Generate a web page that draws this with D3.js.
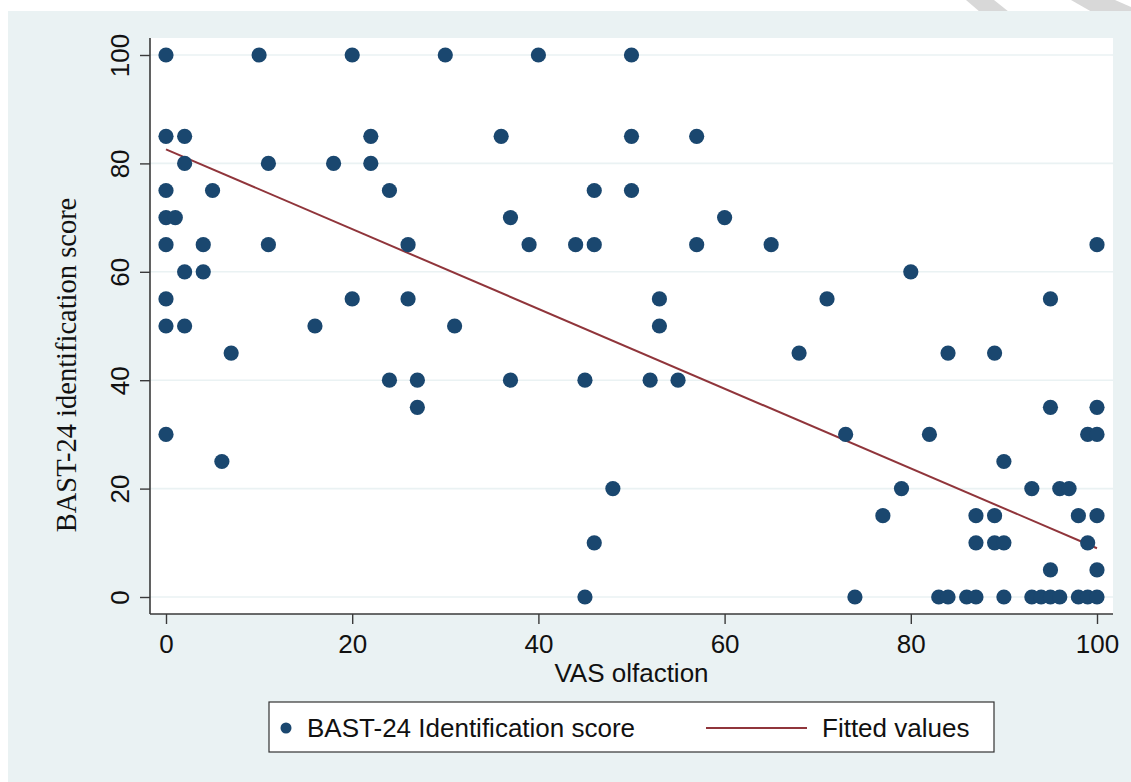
<!DOCTYPE html>
<html>
<head>
<meta charset="utf-8">
<script src="https://cdn.jsdelivr.net/npm/d3@7"></script>
<style>
  html, body { margin: 0; padding: 0; background: #ffffff; }
  svg { display: block; }
</style>
</head>
<body>
<div id="chart"></div>
<script>
// VAS olfaction (x) and BAST-24 identification score (y), one pair per subject,
// grouped by score row
const vasOlfaction = [
  0, 10, 20, 30, 40, 50,                                   // 100
  0, 2, 22, 36, 50, 57,                                    // 85
  2, 11, 18, 22,                                           // 80
  0, 5, 24, 46, 50,                                        // 75
  0, 1, 37, 60,                                            // 70
  0, 4, 11, 26, 39, 44, 46, 57, 65, 100,                   // 65
  2, 4, 80,                                                // 60
  0, 20, 26, 53, 71, 95,                                   // 55
  0, 2, 16, 31, 53,                                        // 50
  7, 68, 84, 89,                                           // 45
  24, 27, 37, 45, 52, 55,                                  // 40
  27, 95, 100,                                             // 35
  0, 73, 82, 99, 100,                                      // 30
  6, 90,                                                   // 25
  48, 79, 93, 96, 97,                                      // 20
  77, 87, 89, 98, 100,                                     // 15
  46, 87, 89, 90, 99,                                      // 10
  95, 100,                                                 // 5
  45, 74, 83, 84, 86, 87, 90, 93, 94, 95, 96, 98, 99, 100  // 0
];
const bastScore = [
  100, 100, 100, 100, 100, 100,
  85, 85, 85, 85, 85, 85,
  80, 80, 80, 80,
  75, 75, 75, 75, 75,
  70, 70, 70, 70,
  65, 65, 65, 65, 65, 65, 65, 65, 65, 65,
  60, 60, 60,
  55, 55, 55, 55, 55, 55,
  50, 50, 50, 50, 50,
  45, 45, 45, 45,
  40, 40, 40, 40, 40, 40,
  35, 35, 35,
  30, 30, 30, 30, 30,
  25, 25,
  20, 20, 20, 20, 20,
  15, 15, 15, 15, 15,
  10, 10, 10, 10, 10,
  5, 5,
  0, 0, 0, 0, 0, 0, 0, 0, 0, 0, 0, 0, 0, 0
];

// fitted regression line, end points
const fittedX = [0, 100];
const fittedY = [82.6, 9.0];

const xTicks = [0, 20, 40, 60, 80, 100];
const yTicks = [0, 20, 40, 60, 80, 100];

const xTitle = "VAS olfaction";
const yTitle = "BAST-24 identification score";
const legendLabels = ["BAST-24 Identification score", "Fitted values"];

class ScatterFit {
  constructor(_config) {
    this.config = {
      parentElement: _config.parentElement,
      width: 1131,
      height: 782,
      // plot region (white) and the inner data range inside it
      plot: { left: 150, right: 1113, top: 38, bottom: 614 },
      inner: { left: 166, right: 1097, top: 55, bottom: 597 },
      pointRadius: 7.6,
      colors: {
        page: "#eaf2f3",
        grid: "#eaf2f3",
        marker: "#1a476f",
        fit: "#90353b",
        axis: "#3a3a3a",
        text: "#111111",
      },
      sans: "Helvetica, Arial, 'Liberation Sans', sans-serif",
      serif: "'Times New Roman', 'Liberation Serif', serif",
      fontSize: 26,
    };
    this.initVis();
  }

  initVis() {
    let vis = this;
    const c = vis.config;

    vis.points = vasOlfaction.map((x, i) => ({ x: x, y: bastScore[i] }));
    vis.fit = fittedX.map((x, i) => ({ x: x, y: fittedY[i] }));

    vis.xScale = d3
      .scaleLinear()
      .domain([0, 100])
      .range([c.inner.left, c.inner.right]);

    vis.yScale = d3
      .scaleLinear()
      .domain([0, 100])
      .range([c.inner.bottom, c.inner.top]);

    vis.svg = d3
      .select(c.parentElement)
      .append("svg")
      .attr("width", c.width)
      .attr("height", c.height);

    // faint watermark strokes in the top-right white strip
    vis.svg
      .append("g")
      .attr("fill", "#d8d8d8")
      .selectAll("polygon")
      .data([
        [[966, 0], [994, 0], [1009, 12], [980, 12]],
        [[1071, 0], [1115, 0], [1131, 7], [1131, 12], [1092, 12]],
      ])
      .join("polygon")
      .attr("points", (d) => d.map((p) => p.join(",")).join(" "));

    // graph background
    vis.svg
      .append("rect")
      .attr("x", 8)
      .attr("y", 11)
      .attr("width", c.width - 8)
      .attr("height", c.height - 11)
      .attr("fill", c.colors.page);

    // plot region
    vis.svg
      .append("rect")
      .attr("x", c.plot.left)
      .attr("y", c.plot.top)
      .attr("width", c.plot.right - c.plot.left)
      .attr("height", c.plot.bottom - c.plot.top)
      .attr("fill", "#ffffff");

    vis.gridG = vis.svg.append("g").attr("class", "grid");
    vis.fitG = vis.svg.append("g").attr("class", "fit");
    vis.pointsG = vis.svg.append("g").attr("class", "points");

    vis.xAxisG = vis.svg
      .append("g")
      .attr("class", "axis x-axis")
      .attr("transform", `translate(0,${c.plot.bottom})`);

    vis.yAxisG = vis.svg
      .append("g")
      .attr("class", "axis y-axis")
      .attr("transform", `translate(${c.plot.left},0)`);

    vis.xAxis = d3.axisBottom(vis.xScale).tickValues(xTicks).tickSize(10);
    vis.yAxis = d3.axisLeft(vis.yScale).tickValues(yTicks).tickSize(10);

    vis.renderVis();
  }

  renderVis() {
    let vis = this;
    const c = vis.config;

    // horizontal grid lines
    vis.gridG
      .selectAll("line")
      .data(yTicks)
      .join("line")
      .attr("x1", c.plot.left)
      .attr("x2", c.plot.right)
      .attr("y1", (d) => vis.yScale(d))
      .attr("y2", (d) => vis.yScale(d))
      .attr("stroke", c.colors.grid)
      .attr("stroke-width", 1.6);

    vis.pointsG
      .selectAll("circle")
      .data(vis.points)
      .join("circle")
      .attr("cx", (d) => vis.xScale(d.x))
      .attr("cy", (d) => vis.yScale(d.y))
      .attr("r", c.pointRadius)
      .attr("fill", c.colors.marker);

    const line = d3
      .line()
      .x((d) => vis.xScale(d.x))
      .y((d) => vis.yScale(d.y));

    vis.fitG
      .append("path")
      .datum(vis.fit)
      .attr("d", line)
      .attr("fill", "none")
      .attr("stroke", c.colors.fit)
      .attr("stroke-width", 2);

    // axes
    vis.xAxisG.call(vis.xAxis).call((g) => g.select(".domain").remove());
    vis.yAxisG.call(vis.yAxis).call((g) => g.select(".domain").remove());

    vis.svg
      .selectAll(".axis line")
      .attr("stroke", c.colors.axis)
      .attr("stroke-width", 1.4);

    vis.xAxisG
      .selectAll("text")
      .attr("y", 39)
      .attr("dy", null)
      .attr("font-family", c.sans)
      .attr("font-size", c.fontSize)
      .attr("fill", c.colors.text);

    vis.yAxisG
      .selectAll("text")
      .attr("x", 0)
      .attr("dy", null)
      .attr("text-anchor", "middle")
      .attr("transform", "translate(-21,0) rotate(-90)")
      .attr("font-family", c.sans)
      .attr("font-size", c.fontSize)
      .attr("fill", c.colors.text);

    // axis lines
    vis.svg
      .append("line")
      .attr("x1", c.plot.left)
      .attr("x2", c.plot.left)
      .attr("y1", c.plot.top)
      .attr("y2", c.plot.bottom)
      .attr("stroke", c.colors.axis)
      .attr("stroke-width", 1.6);

    vis.svg
      .append("line")
      .attr("x1", c.plot.left)
      .attr("x2", c.plot.right)
      .attr("y1", c.plot.bottom)
      .attr("y2", c.plot.bottom)
      .attr("stroke", c.colors.axis)
      .attr("stroke-width", 1.6);

    // axis titles
    vis.svg
      .append("text")
      .attr("x", (c.inner.left + c.inner.right) / 2)
      .attr("y", 682)
      .attr("text-anchor", "middle")
      .attr("font-family", c.sans)
      .attr("font-size", c.fontSize)
      .attr("fill", c.colors.text)
      .text(xTitle);

    vis.svg
      .append("text")
      .attr("transform", "translate(76,365) rotate(-90)")
      .attr("text-anchor", "middle")
      .attr("font-family", c.serif)
      .attr("font-size", 28.5)
      .attr("fill", c.colors.text)
      .text(yTitle);

    vis.renderLegend();
  }

  renderLegend() {
    let vis = this;
    const c = vis.config;

    const legend = vis.svg.append("g").attr("class", "legend");

    legend
      .append("rect")
      .attr("x", 269)
      .attr("y", 702)
      .attr("width", 725)
      .attr("height", 50)
      .attr("fill", "#ffffff")
      .attr("stroke", "#333333")
      .attr("stroke-width", 1.2);

    legend
      .append("circle")
      .attr("cx", 286)
      .attr("cy", 728)
      .attr("r", 5.5)
      .attr("fill", c.colors.marker);

    legend
      .append("line")
      .attr("x1", 706)
      .attr("x2", 807)
      .attr("y1", 728)
      .attr("y2", 728)
      .attr("stroke", c.colors.fit)
      .attr("stroke-width", 2);

    legend
      .selectAll("text")
      .data(legendLabels)
      .join("text")
      .attr("x", (d, i) => (i === 0 ? 307 : 822))
      .attr("y", 737)
      .attr("font-family", c.sans)
      .attr("font-size", c.fontSize)
      .attr("fill", c.colors.text)
      .text((d) => d);
  }
}

new ScatterFit({ parentElement: "#chart" });
</script>
</body>
</html>
